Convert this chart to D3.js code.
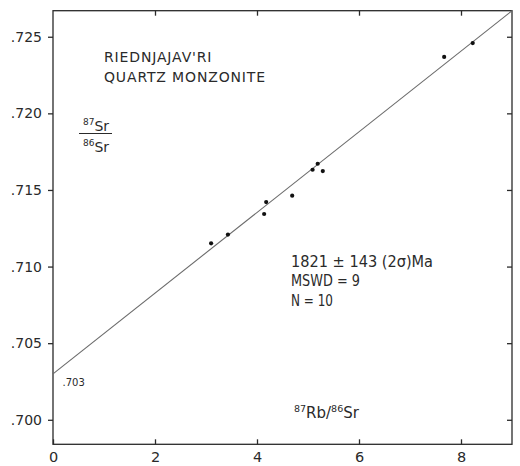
<!DOCTYPE html>
<html>
<head>
<meta charset="utf-8">
<script src="https://cdn.jsdelivr.net/npm/d3@7/dist/d3.min.js"></script>
<style>
  html, body { margin: 0; padding: 0; background: #fff; }
  svg { display: block; }
  text { font-family: "DejaVu Sans", sans-serif; fill: #2a2a2a; }
</style>
</head>
<body>
<svg id="chart" width="520" height="466"></svg>
<script>
// 87Rb/86Sr vs 87Sr/86Sr whole-rock samples
const rbSr = [3.10, 3.43, 4.14, 4.18, 4.69, 5.09, 5.19, 5.29, 7.67, 8.23];
const srSr = [0.71152, 0.71209, 0.71343, 0.71421, 0.71463, 0.71632, 0.71671, 0.71623, 0.72368, 0.72459];

// isochron: initial ratio and slope (per unit 87Rb/86Sr)
const initialRatio = 0.703;
const isochronSlope = 0.002633;
const isochronX = [0, 9];

const xTicks = [0, 2, 4, 6, 8];
const xTickLabels = ["0", "2", "4", "6", "8"];
const yTicks = [0.700, 0.705, 0.710, 0.715, 0.720, 0.725];
const yTickLabels = [".700", ".705", ".710", ".715", ".720", ".725"];

const titleLines = ["RIEDNJAJAV'RI", "QUARTZ MONZONITE"];
const statLines = ["1821 \u00b1 143 (2\u03c3)Ma", "MSWD = 9", "N = 10"];
const statWidths = [142, 69, 42];

const svg = d3.select("#chart");
const plotLeft = 53, plotRight = 512, plotTop = 10.7, plotBottom = 444.3;

const x = d3.scaleLinear().domain([0, 9]).range([plotLeft, plotRight]);
const y = d3.scaleLinear().domain([0.6984, 0.7267]).range([plotBottom, plotTop]);

const axisColor = "#2a2a2a";

// frame
svg.append("rect")
  .attr("x", plotLeft).attr("y", plotTop)
  .attr("width", plotRight - plotLeft).attr("height", plotBottom - plotTop)
  .attr("fill", "none").attr("stroke", axisColor).attr("stroke-width", 1.3);

function styleAxis(g) {
  g.select(".domain").remove();
  g.selectAll(".tick line").attr("stroke", axisColor).attr("stroke-width", 1.3);
  g.selectAll(".tick text").attr("fill", "#2a2a2a").attr("font-family", "DejaVu Sans, sans-serif");
}

// left axis, outward ticks with labels
svg.append("g").attr("transform", `translate(${plotLeft},0)`)
  .call(d3.axisLeft(y).tickValues(yTicks).tickSize(5).tickPadding(6)
    .tickFormat((d, i) => yTickLabels[i]))
  .call(styleAxis)
  .call(g => g.selectAll(".tick text").attr("font-size", 14));

// bottom axis, inward ticks with labels
svg.append("g").attr("transform", `translate(0,${plotBottom})`)
  .call(d3.axisBottom(x).tickValues(xTicks).tickSize(-5).tickPadding(7)
    .tickFormat((d, i) => xTickLabels[i]))
  .call(styleAxis)
  .call(g => g.selectAll(".tick text").attr("font-size", 14.5));

// top axis, inward ticks only
svg.append("g").attr("transform", `translate(0,${plotTop})`)
  .call(d3.axisTop(x).tickValues(xTicks.filter(d => d > 0)).tickSize(-5).tickFormat(""))
  .call(styleAxis);

// right axis, inward ticks only
svg.append("g").attr("transform", `translate(${plotRight},0)`)
  .call(d3.axisRight(y).tickValues(yTicks).tickSize(-5).tickFormat(""))
  .call(styleAxis);

// isochron line
const line = d3.line().x(d => x(d)).y(d => y(initialRatio + isochronSlope * d));
svg.append("path").datum(isochronX)
  .attr("d", line)
  .attr("fill", "none").attr("stroke", "#6a6a6a").attr("stroke-width", 1.1);

// samples
svg.append("g").selectAll("circle")
  .data(rbSr.map((v, i) => [v, srSr[i]]))
  .join("circle")
  .attr("cx", d => x(d[0])).attr("cy", d => y(d[1]))
  .attr("r", 2.1).attr("fill", "#111");

// title
svg.append("text").attr("font-size", 14).attr("letter-spacing", 0.85)
  .selectAll("tspan").data(titleLines).join("tspan")
  .attr("x", 104).attr("y", (d, i) => 62 + i * 20)
  .text(d => d);

// y label as a fraction
const frac = svg.append("g");
frac.append("text").attr("x", 83).attr("y", 131).attr("font-size", 14)
  .call(t => t.append("tspan").attr("font-size", 9).attr("dy", -6).text("87"))
  .call(t => t.append("tspan").attr("dy", 6).text("Sr"));
frac.append("line").attr("x1", 79).attr("x2", 112).attr("y1", 133.5).attr("y2", 133.5)
  .attr("stroke", "#2a2a2a").attr("stroke-width", 1);
frac.append("text").attr("x", 83).attr("y", 152).attr("font-size", 14)
  .call(t => t.append("tspan").attr("font-size", 9).attr("dy", -6).text("86"))
  .call(t => t.append("tspan").attr("dy", 6).text("Sr"));

// age statistics
svg.append("g").selectAll("text").data(statLines).join("text")
  .attr("font-size", 15.5)
  .attr("x", 291).attr("y", (d, i) => 266.7 + i * 19.5)
  .attr("textLength", (d, i) => statWidths[i])
  .attr("lengthAdjust", "spacingAndGlyphs")
  .text(d => d);

// x label
svg.append("text").attr("x", 294).attr("y", 418).attr("font-size", 15)
  .call(t => t.append("tspan").attr("font-size", 9.5).attr("dy", -6).text("87"))
  .call(t => t.append("tspan").attr("dy", 6).text("Rb/"))
  .call(t => t.append("tspan").attr("font-size", 9.5).attr("dy", -6).text("86"))
  .call(t => t.append("tspan").attr("dy", 6).text("Sr"));

// initial ratio label
svg.append("text").attr("x", 62.5).attr("y", 386).attr("font-size", 10).attr("fill", "#555")
  .text(d3.format(".3f")(initialRatio).slice(1));
</script>
</body>
</html>
